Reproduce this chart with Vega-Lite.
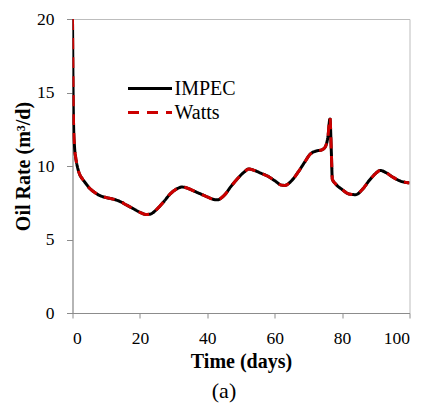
{
  "$schema": "https://vega.github.io/schema/vega-lite/v6.json",
  "width": 337,
  "height": 294,
  "autosize": {"type": "none"},
  "padding": {"left": 72.5, "top": 19, "right": 20.5, "bottom": 91},
  "background": "white",
  "config": {
    "view": {"stroke": "#bdbdbd", "strokeWidth": 1},
    "font": "'Liberation Serif', 'Times New Roman', serif"
  },
  "title": {"text": "(a)", "orient": "bottom", "anchor": "middle", "dx": -17, "offset": 9, "fontSize": 22, "fontWeight": "normal", "font": "'Liberation Serif', 'Times New Roman', serif", "color": "black"},
  "data": {
    "values": [
      {"t": 0, "IMPEC": 20, "Watts": 20},
      {"t": 0.1, "IMPEC": 17, "Watts": 17},
      {"t": 0.2, "IMPEC": 14.5, "Watts": 14.5},
      {"t": 0.35, "IMPEC": 12.5, "Watts": 12.5},
      {"t": 0.6, "IMPEC": 11.3, "Watts": 11.3},
      {"t": 1, "IMPEC": 10.5, "Watts": 10.5},
      {"t": 1.5, "IMPEC": 9.9, "Watts": 9.9},
      {"t": 2, "IMPEC": 9.5, "Watts": 9.5},
      {"t": 3, "IMPEC": 9.1, "Watts": 9.1},
      {"t": 4, "IMPEC": 8.8, "Watts": 8.8},
      {"t": 5, "IMPEC": 8.5, "Watts": 8.5},
      {"t": 6, "IMPEC": 8.3, "Watts": 8.3},
      {"t": 8, "IMPEC": 8.0, "Watts": 8.0},
      {"t": 10, "IMPEC": 7.85, "Watts": 7.85},
      {"t": 12, "IMPEC": 7.75, "Watts": 7.75},
      {"t": 14, "IMPEC": 7.6, "Watts": 7.6},
      {"t": 16, "IMPEC": 7.35, "Watts": 7.35},
      {"t": 18, "IMPEC": 7.1, "Watts": 7.1},
      {"t": 20, "IMPEC": 6.85, "Watts": 6.85},
      {"t": 22, "IMPEC": 6.7, "Watts": 6.7},
      {"t": 23, "IMPEC": 6.72, "Watts": 6.72},
      {"t": 25, "IMPEC": 7.05, "Watts": 7.05},
      {"t": 27, "IMPEC": 7.55, "Watts": 7.55},
      {"t": 29, "IMPEC": 8.1, "Watts": 8.1},
      {"t": 31, "IMPEC": 8.45, "Watts": 8.45},
      {"t": 32.5, "IMPEC": 8.57, "Watts": 8.57},
      {"t": 34, "IMPEC": 8.5, "Watts": 8.5},
      {"t": 36, "IMPEC": 8.3, "Watts": 8.3},
      {"t": 38, "IMPEC": 8.1, "Watts": 8.1},
      {"t": 40, "IMPEC": 7.9, "Watts": 7.9},
      {"t": 42, "IMPEC": 7.72, "Watts": 7.72},
      {"t": 43, "IMPEC": 7.7, "Watts": 7.7},
      {"t": 45, "IMPEC": 8.0, "Watts": 8.0},
      {"t": 47, "IMPEC": 8.6, "Watts": 8.6},
      {"t": 49, "IMPEC": 9.15, "Watts": 9.15},
      {"t": 51, "IMPEC": 9.6, "Watts": 9.6},
      {"t": 52.3, "IMPEC": 9.8, "Watts": 9.8},
      {"t": 54, "IMPEC": 9.7, "Watts": 9.7},
      {"t": 56, "IMPEC": 9.5, "Watts": 9.5},
      {"t": 58, "IMPEC": 9.3, "Watts": 9.3},
      {"t": 60, "IMPEC": 9.0, "Watts": 9.0},
      {"t": 62, "IMPEC": 8.7, "Watts": 8.7},
      {"t": 63, "IMPEC": 8.68, "Watts": 8.68},
      {"t": 65, "IMPEC": 9.0, "Watts": 9.0},
      {"t": 67, "IMPEC": 9.6, "Watts": 9.6},
      {"t": 69, "IMPEC": 10.3, "Watts": 10.3},
      {"t": 70.5, "IMPEC": 10.8, "Watts": 10.8},
      {"t": 72, "IMPEC": 11.0, "Watts": 11.0},
      {"t": 74, "IMPEC": 11.1, "Watts": 11.1},
      {"t": 75, "IMPEC": 11.3, "Watts": 11.3},
      {"t": 75.8, "IMPEC": 12.0, "Watts": 12.0},
      {"t": 76.4, "IMPEC": 13.2, "Watts": 13.3},
      {"t": 76.8, "IMPEC": 11.0, "Watts": 11.0},
      {"t": 77.1, "IMPEC": 9.1, "Watts": 9.1},
      {"t": 78, "IMPEC": 8.8, "Watts": 8.8},
      {"t": 80, "IMPEC": 8.4, "Watts": 8.4},
      {"t": 82, "IMPEC": 8.1, "Watts": 8.1},
      {"t": 84, "IMPEC": 8.05, "Watts": 8.05},
      {"t": 86, "IMPEC": 8.4, "Watts": 8.4},
      {"t": 88, "IMPEC": 9.0, "Watts": 9.0},
      {"t": 90, "IMPEC": 9.5, "Watts": 9.5},
      {"t": 91.3, "IMPEC": 9.7, "Watts": 9.7},
      {"t": 93, "IMPEC": 9.55, "Watts": 9.55},
      {"t": 95, "IMPEC": 9.25, "Watts": 9.25},
      {"t": 97, "IMPEC": 9.0, "Watts": 9.0},
      {"t": 100, "IMPEC": 8.85, "Watts": 8.85}
    ]
  },
  "transform": [{"fold": ["IMPEC", "Watts"], "as": ["series", "rate"]}],
  "mark": {"type": "line", "interpolate": "monotone", "strokeWidth": 3, "clip": true},
  "encoding": {
    "x": {
      "field": "t", "type": "quantitative",
      "scale": {"domain": [0, 100], "nice": false, "zero": false},
      "axis": {
        "title": "Time (days)", "values": [0, 20, 40, 60, 80, 100],
        "grid": false, "domainColor": "#8c8c8c", "tickColor": "#8c8c8c", "tickSize": 5,
        "labelFont": "'Liberation Serif', 'Times New Roman', serif", "labelFontSize": 17.5, "labelColor": "black", "labelPadding": 11,
        "titleFont": "'Liberation Serif', 'Times New Roman', serif", "titleFontSize": 20, "titleFontWeight": "bold", "titleColor": "black", "titlePadding": 5
      }
    },
    "y": {
      "field": "rate", "type": "quantitative",
      "scale": {"domain": [0, 20], "nice": false},
      "axis": {
        "title": "Oil Rate (m³/d)", "values": [0, 5, 10, 15, 20],
        "grid": false, "domainColor": "#8c8c8c", "tickColor": "#8c8c8c", "tickSize": 6,
        "labelFont": "'Liberation Serif', 'Times New Roman', serif", "labelFontSize": 17.5, "labelColor": "black", "labelPadding": 12.5,
        "titleFont": "'Liberation Serif', 'Times New Roman', serif", "titleFontSize": 20, "titleFontWeight": "bold", "titleColor": "black", "titlePadding": 3
      }
    },
    "color": {
      "field": "series", "type": "nominal",
      "scale": {"domain": ["IMPEC", "Watts"], "range": ["black", "#cc0000"]},
      "legend": {
        "title": null, "orient": "none", "legendX": 65, "legendY": 57,
        "symbolType": "M-2,0H2", "symbolSize": 484, "symbolStrokeWidth": 3,
        "rowPadding": 1, "labelOffset": 12,
        "labelFont": "'Liberation Serif', 'Times New Roman', serif", "labelFontSize": 20, "labelColor": "black"
      }
    },
    "strokeDash": {
      "field": "series", "type": "nominal",
      "scale": {"domain": ["IMPEC", "Watts"], "range": [[1, 0], [11, 8]]},
      "legend": null
    }
  }
}
